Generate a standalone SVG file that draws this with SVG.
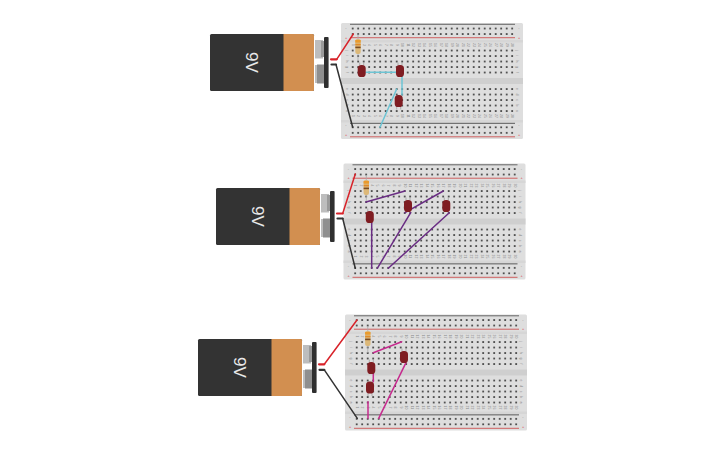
<svg xmlns="http://www.w3.org/2000/svg" xmlns:xlink="http://www.w3.org/1999/xlink" width="725" height="453" viewBox="0 0 725 453">
<style>
.wire{fill:none;stroke-linecap:round;stroke-linejoin:round;stroke-width:1.5}
.stub{fill:none;stroke-linecap:round;stroke-width:2.2}
.red{stroke:#d8232a}.blk{stroke:#333}
.blue{stroke:#6cc4d4}.pur{stroke:#6a2d84}.mag{stroke:#c62b8e}
.n{font:3.4px "Liberation Sans",Arial,sans-serif;fill:#888;text-anchor:middle}
.s{font:3.8px "Liberation Sans",Arial,sans-serif;text-anchor:middle}
.v{font:17px "Liberation Sans",Arial,sans-serif;fill:#e8e8e8;text-anchor:middle}
</style>
<defs>
<pattern id="dots" patternUnits="userSpaceOnUse" x="8.95" y="-2.75" width="5.5" height="5.5"><rect x="1.8" y="1.8" width="1.9" height="1.9" rx=".8" fill="#3f3f3f"/></pattern>
<g id="nums">
<text x="0" y="-10.5">1</text><text x="0" y="-16">2</text><text x="0" y="-21.5">3</text><text x="0" y="-27">4</text><text x="0" y="-32.5">5</text><text x="0" y="-38">6</text><text x="0" y="-43.5">7</text><text x="0" y="-49">8</text><text x="0" y="-54.5">9</text><text x="0" y="-60">10</text><text x="0" y="-65.5">11</text><text x="0" y="-71">12</text><text x="0" y="-76.5">13</text><text x="0" y="-82">14</text><text x="0" y="-87.5">15</text><text x="0" y="-93">16</text><text x="0" y="-98.5">17</text><text x="0" y="-104">18</text><text x="0" y="-109.5">19</text><text x="0" y="-115">20</text><text x="0" y="-120.5">21</text><text x="0" y="-126">22</text><text x="0" y="-131.5">23</text><text x="0" y="-137">24</text><text x="0" y="-142.5">25</text><text x="0" y="-148">26</text><text x="0" y="-153.5">27</text><text x="0" y="-159">28</text><text x="0" y="-164.5">29</text><text x="0" y="-170">30</text>
</g>
<g id="letters">
<text x="27.5" y="0">j</text><text x="33" y="0">i</text><text x="38.5" y="0">h</text><text x="44" y="0">g</text><text x="49.5" y="0">f</text><text x="66" y="0">e</text><text x="71.5" y="0">d</text><text x="77" y="0">c</text><text x="82.5" y="0">b</text><text x="88" y="0">a</text>
</g>
<g id="bb">
<rect width="182" height="116" rx="1.5" fill="#dedede"/>
<rect y="17" width="182" height="2.5" fill="#d6d6d6"/>
<rect y="55" width="182" height="6" fill="#cfcfcf"/>
<rect y="97" width="182" height="2.5" fill="#d6d6d6"/>
<rect x="9" y="0.8" width="165" height="1" fill="#666"/>
<rect x="9" y="14.2" width="165" height="1" fill="#cf6060"/>
<rect x="9" y="99.8" width="165" height="1.1" fill="#666"/>
<rect x="9" y="113.3" width="165" height="1" fill="#cf6060"/>
<rect x="8.95" y="2.75" width="165" height="11" fill="url(#dots)"/>
<rect x="8.95" y="24.75" width="165" height="27.5" fill="url(#dots)"/>
<rect x="8.95" y="63.25" width="165" height="27.5" fill="url(#dots)"/>
<g transform="translate(0,98.8)"><rect x="8.95" y="2.75" width="165" height="11" fill="url(#dots)"/></g>
<g class="n"><use xlink:href="#nums" href="#nums" transform="translate(0,22) rotate(90)"/><use xlink:href="#nums" href="#nums" transform="translate(0,93) rotate(90)"/>
<use xlink:href="#letters" href="#letters" transform="rotate(90) translate(0,-4.5)"/><use xlink:href="#letters" href="#letters" transform="rotate(90) translate(0,-175)"/></g>
<g class="s" fill="#777"><text x="5" y="6">-</text><text x="178" y="6">-</text><text x="5" y="103">-</text><text x="178" y="103">-</text></g>
<g class="s" fill="#d8353a"><text x="5" y="15.5">+</text><text x="178" y="15.5">+</text><text x="5" y="113">+</text><text x="178" y="113">+</text></g>
</g>
<g id="led"><path d="M-2 -6V-8.5M2 -6V-8.5" stroke="#999" stroke-width=".7"/><rect x="-4" y="-6" width="8" height="12" rx="3.6" fill="#7f1d22"/></g>
<g id="res"><path d="M0 -9V18" stroke="#aaa" stroke-width=".8"/><rect x="-2.7" y="-4" width="5.4" height="15" rx="2" fill="#dcb878"/><rect x="-2.7" y="-3" width="5.4" height="2.6" fill="#ea9a2c"/><rect x="-2.7" y="0.8" width="5.4" height="1.6" fill="#e08a28"/><rect x="-2.7" y="3.6" width="5.4" height="1.6" fill="#7a4a20"/></g>
<g id="bat">
<rect x="105" y="6" width="8" height="18.5" fill="#bdbdbd"/><rect x="111" y="7" width="3" height="16" fill="#9a9a9a"/>
<rect x="105" y="31" width="3" height="18" fill="#bdbdbd"/><rect x="107" y="30.5" width="7" height="19" fill="#8f8f8f"/>
<rect width="104" height="57" rx="1.5" fill="#333"/>
<path d="M73.5 0H102.5a1.5 1.5 0 0 1 1.5 1.5V55.5a1.5 1.5 0 0 1 -1.5 1.5H73.5Z" fill="#d28f50"/>
<rect x="114" y="3" width="4.6" height="51" rx="1" fill="#2f2f2f"/>
<text class="v" transform="translate(42,28.5) rotate(90)" y="6">9V</text>
</g>
</defs>
<rect width="725" height="453" fill="#fff"/>

<g id="breadboard-1" transform="translate(341,23)"><use xlink:href="#bb" href="#bb"/></g>
<g id="breadboard-2" transform="translate(343.5,163.5)"><use xlink:href="#bb" href="#bb"/></g>
<g id="breadboard-3" transform="translate(345,314.5)"><use xlink:href="#bb" href="#bb"/></g>

<g id="battery-1" transform="translate(210,34)"><use xlink:href="#bat" href="#bat"/></g>
<g id="battery-2" transform="translate(216,188)"><use xlink:href="#bat" href="#bat"/></g>
<g id="battery-3" transform="translate(198,339)"><use xlink:href="#bat" href="#bat"/></g>

<g id="resistor-1" transform="translate(358,43)"><use xlink:href="#res" href="#res"/></g>
<g id="resistor-2" transform="translate(366.3,184)"><use xlink:href="#res" href="#res"/></g>
<g id="resistor-3" transform="translate(367.8,335)"><use xlink:href="#res" href="#res"/></g>

<g id="connectors">
<path class="wire red" d="M336.7 59.3L353.3 34"/>
<path class="stub red" d="M331 59.3H336.7"/>
<path class="wire blk" d="M336 64.5L352.7 127.3"/>
<path class="stub blk" d="M331.5 64.5H336"/>
<path class="wire blue" d="M366 72.3H396.7"/>
<path class="wire blue" d="M402 72.3V95"/>
<path class="wire blue" d="M396.7 89L380 127.3"/>

<path class="wire red" d="M342.7 213.5L355.3 174"/>
<path class="stub red" d="M337 213.5H342.7"/>
<path class="wire blk" d="M342.7 218.5L355.3 268.3"/>
<path class="stub blk" d="M337.5 218.5H342.7"/>
<path class="wire pur" d="M366 202L405 191"/>
<path class="wire pur" d="M371.7 222V268.3"/>
<path class="wire pur" d="M410.7 212.7L377.3 268.3"/>
<path class="wire pur" d="M405 212.7L443.3 191"/>
<path class="wire pur" d="M449.3 212.7L388.3 268.3"/>

<path class="wire red" d="M324.3 364.3L357 320"/>
<path class="stub red" d="M319 364.3H324.3"/>
<path class="wire blk" d="M324.3 369.8L357.3 418.3"/>
<path class="stub blk" d="M319.5 369.8H324.3"/>
<path class="wire mag" d="M373.3 352.7L401.7 341.7"/>
<path class="wire mag" d="M373.3 373V381.7"/>
<path class="wire mag" d="M368 401.7V418.3"/>
<path class="wire mag" d="M406 362.7L378.7 418.3"/>
</g>

<g id="led-1a" transform="translate(361.7,71)"><use xlink:href="#led" href="#led"/></g>
<g id="led-1b" transform="translate(400,71)"><use xlink:href="#led" href="#led"/></g>
<g id="led-1c" transform="translate(398.7,101) rotate(180)"><use xlink:href="#led" href="#led"/></g>
<g id="led-2a" transform="translate(369.8,217)"><use xlink:href="#led" href="#led"/></g>
<g id="led-2b" transform="translate(408,206)"><use xlink:href="#led" href="#led"/></g>
<g id="led-2c" transform="translate(446.3,206)"><use xlink:href="#led" href="#led"/></g>
<g id="led-3a" transform="translate(371.3,368)"><use xlink:href="#led" href="#led"/></g>
<g id="led-3b" transform="translate(370,387.5) rotate(180)"><use xlink:href="#led" href="#led"/></g>
<g id="led-3c" transform="translate(404,357)"><use xlink:href="#led" href="#led"/></g>
</svg>
